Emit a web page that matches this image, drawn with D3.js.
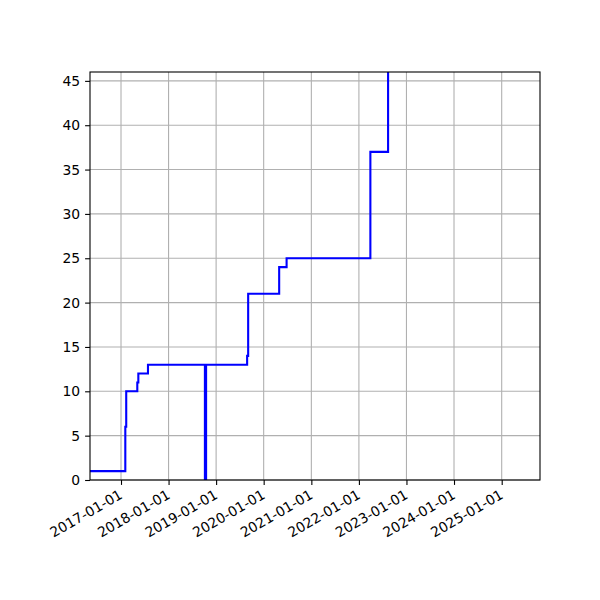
<!DOCTYPE html>
<html>
<head>
<meta charset="utf-8">
<script src="https://cdn.jsdelivr.net/npm/d3@7"></script>
<style>
  body { margin: 0; background: #fff; }
</style>
</head>
<body>
<div id="chart"></div>
<script>
// step points (value holds until the next date)
var stepDates = ["2016-03-01", "2017-02-03", "2017-02-10", "2017-05-06", "2017-05-14", "2017-07-27",
                 "2018-10-07", "2018-10-16", "2019-08-27", "2019-09-04", "2020-04-29", "2020-06-25",
                 "2022-03-30", "2022-08-13"];
var stepValues = [1, 6, 10, 11, 12, 13, 0, 13, 14, 21, 24, 25, 37, 60];
var xTickLabels = ["2017-01-01", "2018-01-01", "2019-01-01", "2020-01-01", "2021-01-01",
                   "2022-01-01", "2023-01-01", "2024-01-01", "2025-01-01"];
var yTicks = [0, 5, 10, 15, 20, 25, 30, 35, 40, 45];
var xLimits = ["2016-05-08", "2025-10-22"];
var yLimits = [0, 46];

var margin = {top: 72, right: 60, bottom: 120, left: 90};
var dims = {width: 600 - margin.left - margin.right, height: 600 - margin.top - margin.bottom};
var parse = d3.utcParse("%Y-%m-%d");
var font = "DejaVu Sans";

var svg = d3.select("#chart").append("svg")
    .attr("width", 600).attr("height", 600)
  .append("g")
    .attr("transform", "translate(" + margin.left + "," + margin.top + ")");

var x = d3.scaleUtc().domain(xLimits.map(parse)).range([0, dims.width]);
var y = d3.scaleLinear().domain(yLimits).range([dims.height, 0]);

// grid
svg.append("g").selectAll("line").data(xTickLabels).join("line")
    .attr("x1", d => x(parse(d))).attr("x2", d => x(parse(d)))
    .attr("y1", 0).attr("y2", dims.height)
    .attr("stroke", "#b0b0b0").attr("stroke-width", 1.1);
svg.append("g").selectAll("line").data(yTicks).join("line")
    .attr("x1", 0).attr("x2", dims.width)
    .attr("y1", d => y(d)).attr("y2", d => y(d))
    .attr("stroke", "#b0b0b0").attr("stroke-width", 1.1);

// the step line
svg.append("clipPath").attr("id", "clip")
  .append("rect").attr("width", dims.width).attr("height", dims.height);
var pts = stepDates.map((d, i) => ({date: parse(d), value: stepValues[i]}));
svg.append("path")
    .datum(pts)
    .attr("clip-path", "url(#clip)")
    .attr("fill", "none")
    .attr("stroke", "#0000ff")
    .attr("stroke-width", 2.1)
    .attr("d", d3.line().curve(d3.curveStepAfter)
      .x(d => x(d.date)).y(d => y(d.value)));

// axes
var xAxis = svg.append("g")
    .attr("transform", "translate(0," + dims.height + ")")
    .call(d3.axisBottom(x).tickValues(xTickLabels.map(parse)).tickFormat(d3.utcFormat("%Y-%m-%d"))
      .tickSize(4.9).tickPadding(3.5))
    .attr("font-family", font);
xAxis.selectAll("text")
    .attr("font-size", 13.9).attr("fill", "#000")
    .attr("text-anchor", "end")
    .attr("dy", null).attr("y", null)
    .attr("transform", "translate(0,14) rotate(-30)")
    .attr("dominant-baseline", "middle");
var yAxis = svg.append("g")
    .call(d3.axisLeft(y).tickValues(yTicks).tickSize(4.9).tickPadding(4.9))
    .attr("font-family", font);
yAxis.selectAll("text").attr("font-size", 13.9).attr("fill", "#000");
svg.selectAll(".domain").remove();
svg.selectAll(".tick line").attr("stroke", "#000").attr("stroke-width", 1.1);

// spines
svg.append("rect").attr("width", dims.width).attr("height", dims.height)
    .attr("fill", "none").attr("stroke", "#000").attr("stroke-width", 1.1);
</script>
</body>
</html>
